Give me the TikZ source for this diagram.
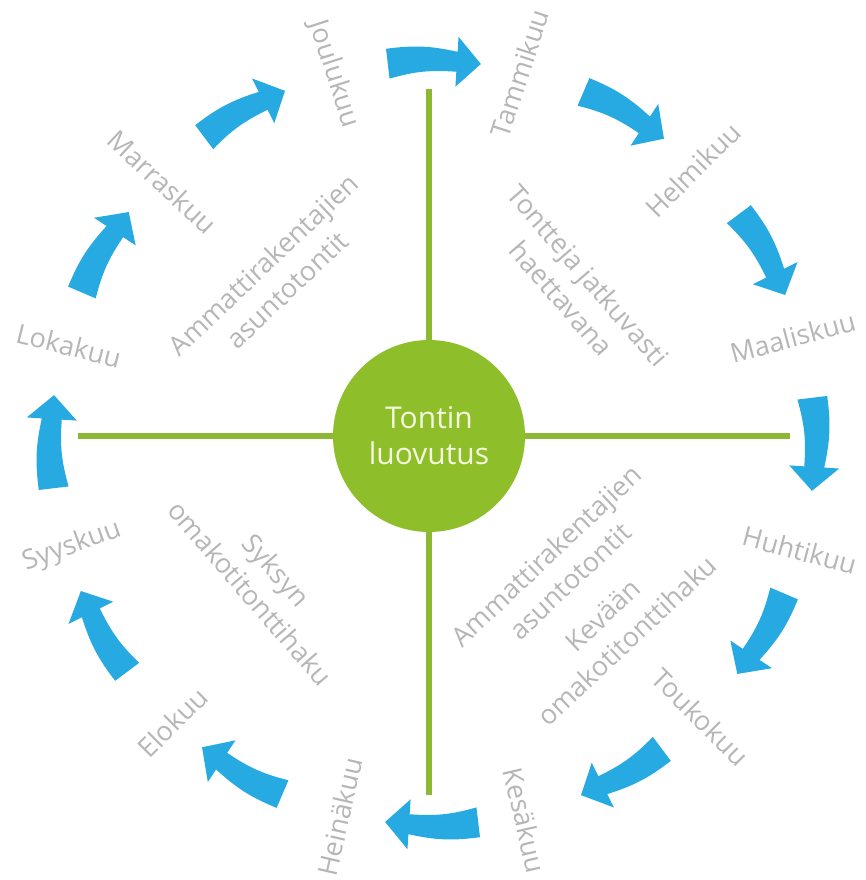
\documentclass[tikz,border=0pt]{standalone}
\usepackage{fontspec}
\setmainfont{Open Sans}
\usetikzlibrary{backgrounds}
\definecolor{arrowblue}{RGB}{39,170,225}
\definecolor{lblgray}{RGB}{182,182,184}
\definecolor{linegreen}{RGB}{140,184,52}
\definecolor{circgreen}{RGB}{142,190,42}
\definecolor{cream}{RGB}{245,247,222}
\begin{document}
\begin{tikzpicture}[x=1pt,y=1pt,
  month/.style={text=lblgray, font=\fontsize{27}{35}\selectfont, inner sep=0pt},
  innertext/.style={text=lblgray, font=\fontsize{27}{35}\selectfont, align=center, inner sep=0pt},
  axisline/.style={draw=linegreen, line width=6pt},
  hub/.style={circle, fill=circgreen, minimum size=192pt, inner sep=0pt, text=cream, font=\fontsize{30}{36}\selectfont, align=center},
  cyclearrow/.style={fill=arrowblue},
]
\useasboundingbox (0,0) rectangle (865,880);
\node[hub] (c) at (429,444) {Tontin\\luovutus};
\coordinate (top) at (429,791);
\coordinate (bottom) at (429,85);
\coordinate (left) at (78,444);
\coordinate (right) at (790,444);
\begin{scope}[on background layer]
  \draw[axisline] (c) -- (top);
  \draw[axisline] (c) -- (bottom);
  \draw[axisline] (c) -- (left);
  \draw[axisline] (c) -- (right);
\end{scope}
\begin{scope}[shift={(433,437)}]
  \foreach \a in {0,30,...,330} {
    \fill[cyclearrow] (\a+6.8:397) to[bend left=10] (\a-3.6:392) -- (\a-3.6:407) -- (\a-7.2:382)
      -- (\a-3.6:357) -- (\a-3.6:372) to[bend right=10] (\a+6.8:367) -- cycle;
  }
  \node[month, rotate=72] (jan) at (76.8:380) {Tammikuu};
  \node[month, rotate=45] (feb) at (46.4:377) {Helmikuu};
  \node[month, rotate=15] (mar) at (16.4:375) {Maaliskuu};
  \node[month, rotate=-15] (apr) at (-16.3:382) {Huhtikuu};
  \node[month, rotate=-45] (may) at (-45.7:383) {Toukokuu};
  \node[month, rotate=-77] (jun) at (-76.3:388) {Kesäkuu};
  \node[month, rotate=77] (jul) at (-104:385) {Heinäkuu};
  \node[month, rotate=45] (aug) at (-133:382) {Elokuu};
  \node[month, rotate=20] (sep) at (-164:375) {Syyskuu};
  \node[month, rotate=-14] (oct) at (165:377) {Lokakuu};
  \node[month, rotate=-43] (nov) at (136:376) {Marraskuu};
  \node[month, rotate=-72] (dec) at (105:382) {Joulukuu};
\end{scope}
\node[innertext, rotate=-49] (ta) at (575,593) {Tontteja jatkuvasti\\haettavana};
\node[innertext, rotate=43.5] (tb) at (275,603) {Ammattirakentajien\\asuntotontit};
\node[innertext, rotate=43.3] (tc) at (558,312) {Ammattirakentajien\\asuntotontit};
\node[innertext, rotate=43.3] (td) at (615,252) {Kevään\\omakotitonttihaku};
\node[innertext, rotate=-49] (te) at (263.5,298.5) {Syksyn\\omakotitonttihaku};
\end{tikzpicture}
\end{document}
